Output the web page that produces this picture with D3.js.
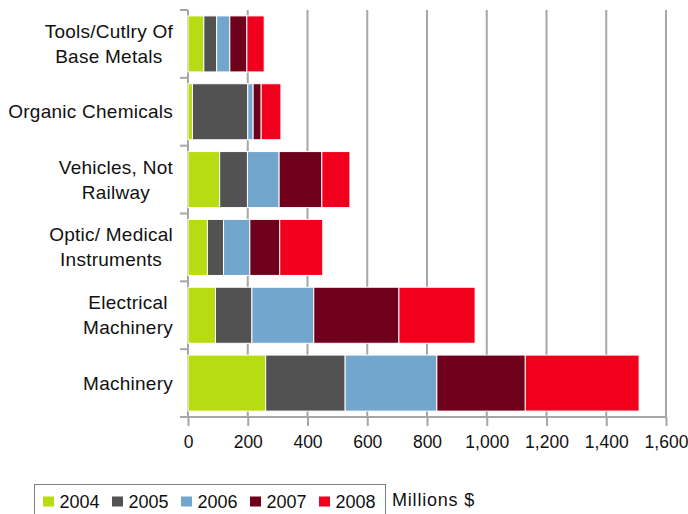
<!DOCTYPE html>
<html><head><meta charset="utf-8">
<script src="https://cdn.jsdelivr.net/npm/d3@7"></script>
<style>body{margin:0;background:#fff}svg{display:block}</style>
</head><body>
<svg id="c" width="688" height="514"></svg>
<script>
const categories = [
  ["Tools/Cutlry Of", "Base Metals"],
  ["Organic Chemicals"],
  ["Vehicles, Not", "Railway"],
  ["Optic/ Medical", "Instruments"],
  ["Electrical", "Machinery"],
  ["Machinery"]
];
const years = ["2004", "2005", "2006", "2007", "2008"];
const v2004 = [53, 15, 106, 65, 92, 260];
const v2005 = [43, 185, 93, 54, 122, 266];
const v2006 = [44, 18, 106, 88, 207, 307];
const v2007 = [57, 27, 143, 100, 285, 296];
const v2008 = [58, 66, 94, 144, 255, 381];
const xTicks = [0, 200, 400, 600, 800, 1000, 1200, 1400, 1600];
const colors = ["#b8dc12", "#525252", "#72a6cc", "#6f001b", "#f0001c"];
const unitLabel = "Millions $";

const series = [v2004, v2005, v2006, v2007, v2008];
const keys = categories.map(c => c.join(" "));
const rows = keys.map((k, i) => {
  const r = {key: k};
  years.forEach((y, j) => r[y] = series[j][i]);
  return r;
});
const stacked = d3.stack().keys(years)(rows);

const svg = d3.select("#c");
const font = "'Liberation Sans', Arial, sans-serif";
const x = d3.scaleLinear().domain([0, 1600]).range([188, 666]);
const y = d3.scaleBand().domain(keys).range([10, 417]).paddingInner(0.174).paddingOuter(0.087);
const grid = "#a6a6a6";

// gridlines
svg.append("g").selectAll("line").data(xTicks.slice(1)).join("line")
  .attr("x1", d => x(d)).attr("x2", d => x(d))
  .attr("y1", 10).attr("y2", 417)
  .attr("stroke", grid).attr("stroke-width", 2);

// bottom axis
const xa = svg.append("g").attr("transform", "translate(0,417)")
  .call(d3.axisBottom(x).tickValues(xTicks).tickSize(9).tickPadding(10).tickFormat(d3.format(",")));
xa.select(".domain").attr("stroke", grid).attr("stroke-width", 2).attr("d", "M188,0H666");
xa.selectAll(".tick line").attr("stroke", grid).attr("stroke-width", 2);
xa.selectAll(".tick text").attr("font-family", font).attr("font-size", 17.5).attr("fill", "#111");

// left axis
const step = y.step();
const bounds = d3.range(categories.length + 1).map(i => 10 + i * step);
svg.append("line").attr("x1", 188).attr("x2", 188).attr("y1", 10).attr("y2", 417)
  .attr("stroke", grid).attr("stroke-width", 2);
svg.append("g").selectAll("line").data(bounds).join("line")
  .attr("x1", 180).attr("x2", 188).attr("y1", d => d).attr("y2", d => d)
  .attr("stroke", grid).attr("stroke-width", 2);

// bars
svg.append("g").selectAll("g").data(stacked).join("g")
  .attr("fill", (d, i) => colors[i])
  .selectAll("rect").data(d => d).join("rect")
  .attr("x", d => x(d[0])).attr("width", d => x(d[1]) - x(d[0]))
  .attr("y", d => y(d.data.key)).attr("height", y.bandwidth())
  .attr("stroke", "#fff").attr("stroke-width", 1);

// category labels
const lineH = 25;
categories.forEach((lines, i) => {
  const cy = y(keys[i]) + y.bandwidth() / 2;
  const g = svg.append("g");
  const ts = lines.map((l, j) => g.append("text").text(l)
    .attr("font-family", font).attr("font-size", 19).attr("letter-spacing", 0.25).attr("fill", "#111")
    .attr("text-anchor", "middle")
    .attr("y", cy + (j - (lines.length - 1) / 2) * lineH + 6.5));
  const w = d3.max(ts, t => t.node().getComputedTextLength());
  ts.forEach(t => t.attr("x", 173 - w / 2));
});

// legend
svg.append("rect").attr("x", 34.5).attr("y", 484.5).attr("width", 351).attr("height", 40)
  .attr("fill", "none").attr("stroke", "#808080").attr("stroke-width", 1);
const lg = svg.append("g").selectAll("g").data(years).join("g")
  .attr("transform", (d, i) => `translate(${43 + i * 69},0)`);
lg.append("rect").attr("x", 0).attr("y", 496.5).attr("width", 11).attr("height", 10)
  .attr("fill", (d, i) => colors[i]);
lg.append("text").text(d => d).attr("x", 16.5).attr("y", 507.5)
  .attr("font-family", font).attr("font-size", 18).attr("fill", "#111");
svg.append("text").text(unitLabel).attr("x", 392).attr("y", 506)
  .attr("font-family", font).attr("font-size", 18).attr("letter-spacing", 0.8).attr("fill", "#111");
</script>
</body></html>
